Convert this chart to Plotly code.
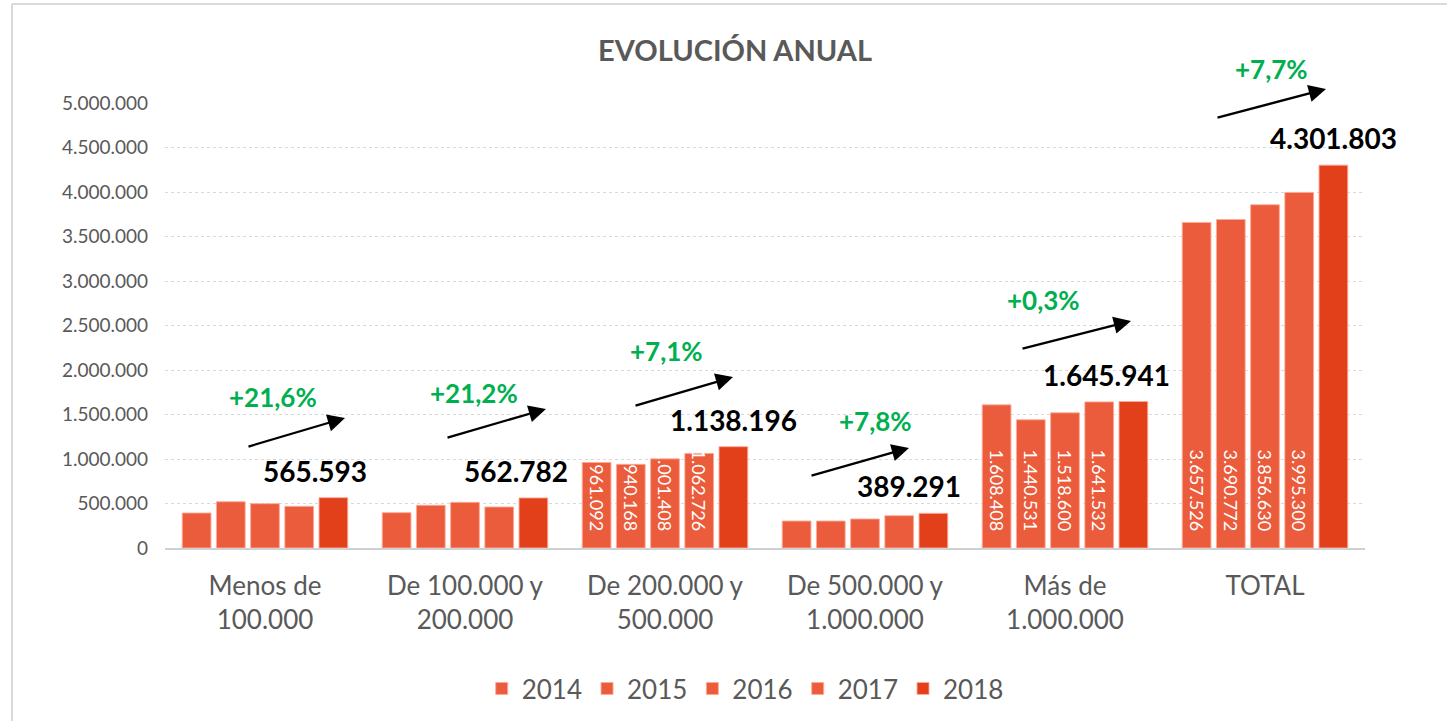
import plotly.graph_objects as go

# ---------------- data ----------------
categories = ["Menos de<br>100.000", "De 100.000 y<br>200.000", "De 200.000 y<br>500.000",
              "De 500.000 y<br>1.000.000", "Más de<br>1.000.000", "TOTAL"]
years = ["2014", "2015", "2016", "2017", "2018"]
v2014 = [393000, 397000, 961092, 303000, 1608408, 3657526]
v2015 = [520000, 480000, 940168, 303000, 1440531, 3690772]
v2016 = [498000, 513000, 1001408, 326000, 1518600, 3856630]
v2017 = [468000, 461000, 1062726, 363000, 1641532, 3995300]
v2018 = [565593, 562782, 1138196, 389291, 1645941, 4301803]
growth = ["+21,6%", "+21,2%", "+7,1%", "+7,8%", "+0,3%", "+7,7%"]
labelled_groups = [2, 4, 5]  # groups with inside value labels
y_ticks = [0, 500000, 1000000, 1500000, 2000000, 2500000, 3000000, 3500000, 4000000, 4500000, 5000000]

series = [v2014, v2015, v2016, v2017, v2018]

# ---------------- style ----------------
C_BAR = "#EA5C3B"
C_LAST = "#E2401A"
C_TXT = "#595959"
C_GREEN = "#00B050"
FONT = "Lato"
BARGAP = 0.145
BARGROUPGAP = 0.16
Y_MAX = 5000000


def fmt(v):
    return f"{v:,}".replace(",", ".")


x = list(range(len(categories)))
fig = go.Figure()
for i, (yr, vals) in enumerate(zip(years, series)):
    last = i == len(years) - 1
    texts = []
    for g, v in enumerate(vals):
        if (not last) and g in labelled_groups:
            texts.append(fmt(v) + "\u00a0\u00a0\u00a0")
        else:
            texts.append("")
    fig.add_trace(go.Bar(
        x=x, y=vals, name=yr,
        marker=dict(color=C_LAST if last else C_BAR,
                    line=dict(color="rgba(255,170,150,0.9)", width=1)),
        text=texts, textposition="inside", insidetextanchor="start",
        textangle=90, constraintext="none",
        textfont=dict(family=FONT, size=18, color="white"),
        hoverinfo="x+y",
    ))

# value labels above 2018 bars
group_w = 1 - BARGAP
last_off = -group_w / 2 + group_w / 5 * 4.5
label_xshift = [-18, -17, 0, -24, -27, 0]
annotations = []
for g, v in enumerate(v2018):
    annotations.append(dict(
        x=g + last_off, y=v, xref="x", yref="y", text=f"<b>{fmt(v)}</b>",
        showarrow=False, yanchor="bottom", xanchor="center", yshift=8,
        xshift=label_xshift[g],
        font=dict(family=FONT, size=28, color="black")))

# trend arrows (tail rel-x, tail y, head rel-x, head y, label rel-x, label y)
arrow_geom = [
    (-0.09, 1135000, 0.40, 1461000, 0.04, 1697000),
    (-0.095, 1236000, 0.405, 1562000, 0.045, 1742000),
    (-0.155, 1596000, 0.34, 1921000, 0.005, 2213000),
    (-0.275, 809000, 0.22, 1124000, 0.05, 1427000),
    (-0.22, 2236000, 0.33, 2551000, -0.11, 2787000),
    (-0.245, 4831000, 0.305, 5157000, 0.03, 5382000),
]
for g, (tx, ty, hx, hy, lx, ly) in enumerate(arrow_geom):
    annotations.append(dict(
        x=g + hx, y=hy, ax=g + tx, ay=ty, xref="x", yref="y", axref="x", ayref="y",
        text="", showarrow=True, arrowhead=2, arrowsize=1.5, arrowwidth=2.3,
        arrowcolor="black"))
    annotations.append(dict(
        x=g + lx, y=ly / Y_MAX, xref="x", yref="paper", text=f"<b>{growth[g]}</b>",
        showarrow=False, xanchor="center", yanchor="middle",
        font=dict(family=FONT, size=26, color=C_GREEN)))

fig.update_layout(
    width=1447, height=721,
    margin=dict(l=165, r=82, t=103, b=173),
    paper_bgcolor="white", plot_bgcolor="white",
    barmode="group", bargap=BARGAP, bargroupgap=BARGROUPGAP,
    separators=",.",
    title=dict(text="<b>EVOLUCIÓN ANUAL</b>", x=0.508, xanchor="center",
               y=0.93, yanchor="middle", yref="container",
               font=dict(family=FONT, size=29, color=C_TXT)),
    font=dict(family=FONT, color=C_TXT),
    showlegend=True,
    legend=dict(orientation="h", x=0.515, xanchor="center", xref="container",
                y=0.045, yanchor="middle", yref="container",
                font=dict(family=FONT, size=26, color=C_TXT)),
    annotations=annotations,
    shapes=[
        dict(type="line", xref="paper", yref="paper", x0=-0.1275, x1=-0.1275,
             y0=-0.5, y1=1.2225, line=dict(color="#D9D9D9", width=2)),
        dict(type="line", xref="paper", yref="paper", x0=-0.1275, x1=1.2,
             y0=1.2225, y1=1.2225, line=dict(color="#D9D9D9", width=2)),
    ],
)
fig.update_xaxes(
    range=[-0.5, len(categories) - 0.5],
    tickmode="array", tickvals=x, ticktext=categories,
    tickfont=dict(family=FONT, size=26, color=C_TXT),
    showgrid=False, showline=True, linecolor="#D0D0D0", linewidth=2,
    ticks="", ticklabelstandoff=14, fixedrange=True,
)
fig.update_yaxes(
    range=[0, Y_MAX], tickmode="array", tickvals=y_ticks,
    ticktext=[fmt(t) for t in y_ticks],
    tickfont=dict(family=FONT, size=19, color=C_TXT),
    showgrid=True, gridcolor="#D9D9D9", griddash="dot", gridwidth=1,
    zeroline=False, ticks="", ticklabelstandoff=16, fixedrange=True,
)

fig.write_html("out.html", config={"displayModeBar": False},
               post_script="document.body.style.margin='0';document.body.style.overflow='hidden';")
